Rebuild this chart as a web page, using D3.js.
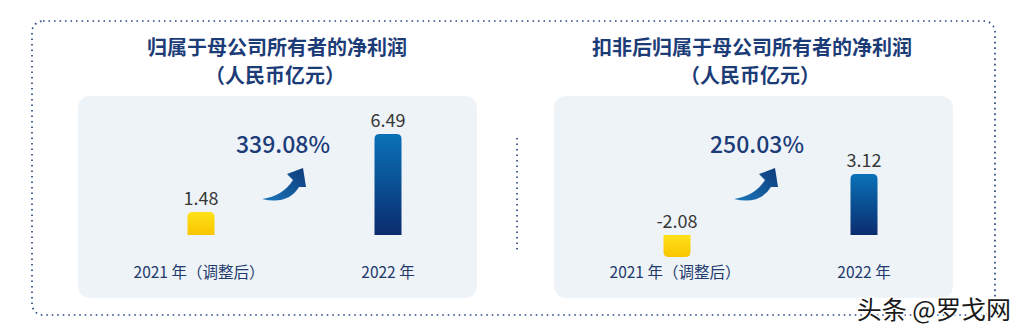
<!DOCTYPE html>
<html>
<head>
<meta charset="utf-8">
<script src="https://cdn.jsdelivr.net/npm/d3@7"></script>
<style>
  html, body { margin: 0; padding: 0; background: #ffffff; }
  svg { display: block; }
  text { font-family: "Noto Sans CJK SC", "Noto Sans", sans-serif; }
</style>
</head>
<body>
<div id="chart"></div>
<script>
// Data
const categories = ["2021 年（调整后）", "2022 年"];
const netProfit = [1.48, 6.49];
const netProfitDeducted = [-2.08, 3.12];
const growthLabels = ["339.08%", "250.03%"];
const panelTitles = ["归属于母公司所有者的净利润", "扣非后归属于母公司所有者的净利润"];
const unitLabel = "（人民币亿元）";
const valueLabels = [["1.48", "6.49"], ["-2.08", "3.12"]];

const W = 1022, H = 333;
const navy = "#1c3c78";

const svg = d3.select("#chart").append("svg")
    .attr("width", W)
    .attr("height", H);

// gradients
const defs = svg.append("defs");
const gy = defs.append("linearGradient").attr("id", "gYellow")
    .attr("x1", 0).attr("y1", 0).attr("x2", 0).attr("y2", 1);
gy.append("stop").attr("offset", "0%").attr("stop-color", "#ffe21a");
gy.append("stop").attr("offset", "100%").attr("stop-color", "#f8c500");

const gb = defs.append("linearGradient").attr("id", "gBlue")
    .attr("x1", 0).attr("y1", 0).attr("x2", 0).attr("y2", 1);
gb.append("stop").attr("offset", "0%").attr("stop-color", "#0a72b8");
gb.append("stop").attr("offset", "100%").attr("stop-color", "#0b2c6e");

const ga = defs.append("linearGradient").attr("id", "gArrow")
    .attr("x1", 0).attr("y1", 1).attr("x2", 1).attr("y2", 0);
ga.append("stop").attr("offset", "0%").attr("stop-color", "#1b76ba");
ga.append("stop").attr("offset", "100%").attr("stop-color", "#0d3a7a");

// outer dotted frame
svg.append("rect")
    .attr("x", 32).attr("y", 21)
    .attr("width", 963).attr("height", 294)
    .attr("rx", 11)
    .attr("fill", "none")
    .attr("stroke", "#2b4a82")
    .attr("stroke-width", 1.7)
    .attr("stroke-dasharray", "1.6,3.9");

// middle dotted divider
svg.append("line")
    .attr("x1", 517).attr("x2", 517)
    .attr("y1", 138).attr("y2", 253)
    .attr("stroke", "#2b4a82")
    .attr("stroke-width", 1.7)
    .attr("stroke-dasharray", "1.6,3.9");

// rounded-top (positive) or rounded-bottom (negative) bar path
function barPath(x, y0, y1, w, r) {
    const top = Math.min(y0, y1), bot = Math.max(y0, y1);
    const h = bot - top;
    r = Math.min(r, h / 2);
    if (y1 < y0) {
        return `M${x},${bot} V${top + r} Q${x},${top} ${x + r},${top} H${x + w - r} Q${x + w},${top} ${x + w},${top + r} V${bot} Z`;
    }
    return `M${x},${top} V${bot - r} Q${x},${bot} ${x + r},${bot} H${x + w - r} Q${x + w},${bot} ${x + w},${bot - r} V${top} Z`;
}

const panels = [
    { x: 78, title: panelTitles[0], values: netProfit, labels: valueLabels[0], growth: growthLabels[0],
      yDomain: [0, 6.49], yRange: [235, 134], titleX: 277, growthX: 283, arrowX: 262 },
    { x: 554, title: panelTitles[1], values: netProfitDeducted, labels: valueLabels[1], growth: growthLabels[1],
      yDomain: [-2.08, 0, 3.12], yRange: [257, 235, 174], titleX: 752, growthX: 757, arrowX: 734 }
];

const panelW = 399, panelTop = 96, panelH = 202, barW = 27;

panels.forEach(p => {
    // titles
    svg.append("text")
        .attr("x", p.titleX).attr("y", 55)
        .attr("text-anchor", "middle")
        .style("font-size", "20px")
        .style("font-weight", "bold")
        .style("fill", navy)
        .text(p.title);
    svg.append("text")
        .attr("x", p.titleX - 2).attr("y", 83)
        .attr("text-anchor", "middle")
        .style("font-size", "20px")
        .style("font-weight", "bold")
        .style("fill", navy)
        .text(unitLabel);

    const g = svg.append("g").attr("transform", `translate(${p.x},0)`);

    g.append("rect")
        .attr("x", 0).attr("y", panelTop)
        .attr("width", panelW).attr("height", panelH)
        .attr("rx", 12)
        .attr("fill", "#eef3f8");

    const xScale = d3.scalePoint()
        .domain(categories)
        .range([123, 310]);

    const yScale = d3.scaleLinear()
        .domain(p.yDomain)
        .range(p.yRange);

    const data = categories.map((c, i) => ({ cat: c, value: p.values[i], label: p.labels[i], i }));

    g.selectAll(".bar")
        .data(data)
        .enter().append("path")
        .attr("class", "bar")
        .attr("d", d => barPath(xScale(d.cat) - barW / 2, yScale(0), yScale(d.value), barW, 5))
        .attr("fill", d => d.i === 0 ? "url(#gYellow)" : "url(#gBlue)");

    // value labels above the bar (above the baseline for negative values)
    g.selectAll(".val")
        .data(data)
        .enter().append("text")
        .attr("class", "val")
        .attr("x", d => xScale(d.cat))
        .attr("y", d => Math.min(yScale(0), yScale(d.value)) - 7)
        .attr("text-anchor", "middle")
        .style("font-size", "18px")
        .style("fill", "#383838")
        .text(d => d.label);

    // category labels
    g.selectAll(".cat")
        .data(data)
        .enter().append("text")
        .attr("class", "cat")
        .attr("x", d => xScale(d.cat) - (d.i === 0 ? 2 : 0))
        .attr("y", 278)
        .attr("text-anchor", "middle")
        .style("font-size", "15.5px")
        .style("fill", "#22396b")
        .text(d => d.cat);

    // growth text + arrow
    svg.append("text")
        .attr("x", p.growthX).attr("y", 153)
        .attr("text-anchor", "middle")
        .style("font-size", "23px")
        .style("font-weight", "500")
        .style("fill", navy)
        .text(p.growth);

    svg.append("path")
        .attr("transform", `translate(${p.arrowX},199)`)
        .attr("d", "M0,0 Q26,6 37,-12 L44,-12 L41,-31 L25,-25 L31,-19 Q21,-3 0,0 Z")
        .attr("fill", "url(#gArrow)");
});

// watermark
svg.append("text")
    .attr("x", 1011).attr("y", 319)
    .attr("text-anchor", "end")
    .style("font-size", "25px")
    .style("fill", "#1a1a1a")
    .style("stroke", "#ffffff")
    .style("stroke-width", 3)
    .style("paint-order", "stroke")
    .text("头条 @罗戈网");
</script>
</body>
</html>
